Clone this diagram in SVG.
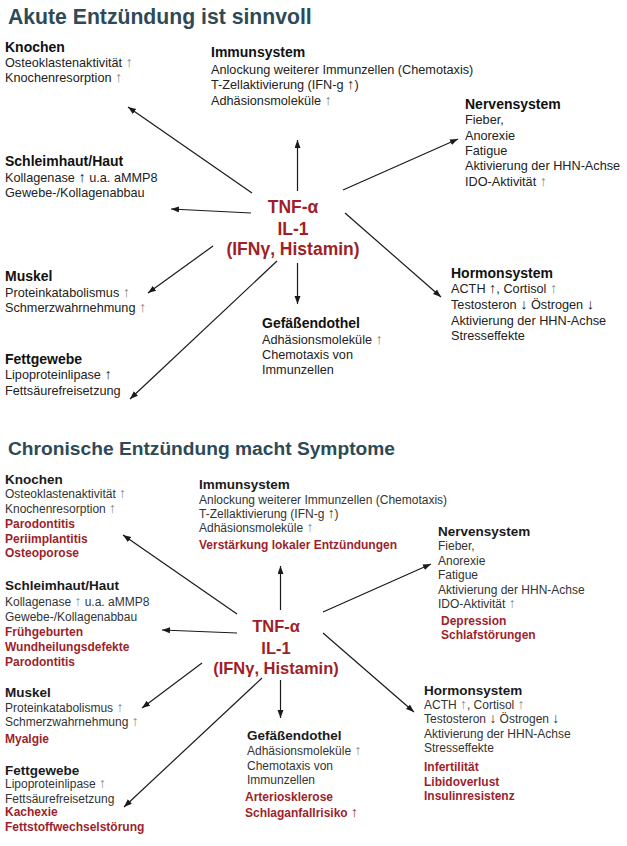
<svg xmlns="http://www.w3.org/2000/svg" width="627" height="846" viewBox="0 0 627 846">
<defs>
<marker id="ah" markerUnits="userSpaceOnUse" markerWidth="9" markerHeight="7" refX="8" refY="3" orient="auto">
<path d="M0,0 L8,3 L0,6 z" fill="#1a1a1a"/>
</marker>
<style>
text{font-family:"Liberation Sans",Arial,sans-serif;}
.t{font-size:21.2px;font-weight:bold;fill:#2d4a56;}
.t2{font-size:19.2px;font-weight:bold;fill:#2d4a56;}
.h{font-size:14px;font-weight:bold;fill:#111;}
.b{font-size:12.7px;fill:#222;}
.h2{font-size:13.5px;font-weight:bold;fill:#1a1a1a;}
.b2{font-size:12px;fill:#333;}
.r{font-size:12px;font-weight:bold;fill:#9e1f2c;}
.c{font-size:17.5px;font-weight:bold;fill:#a01f27;text-anchor:middle;}
.c2{font-size:16.5px;font-weight:bold;fill:#a01f27;text-anchor:middle;}
.u{fill:#888;font-size:1.15em;}
.d{font-size:1.15em;}
.conn line{stroke:#1a1a1a;stroke-width:1.2;marker-end:url(#ah);}
</style>
</defs>
<rect width="627" height="846" fill="#fff"/>

<text class="t" x="8" y="24">Akute Entzündung ist sinnvoll</text>

<g id="a-center">
<text class="c" x="293" y="213">TNF-α</text>
<text class="c" x="293" y="235">IL-1</text>
<text class="c" x="293" y="255">(IFNγ, Histamin)</text>
</g>
<g id="a-knochen">
<text class="h" x="5" y="52">Knochen</text>
<text class="b" x="5" y="67">Osteoklastenaktivität <tspan class="u">↑</tspan></text>
<text class="b" x="5" y="82">Knochenresorption <tspan class="u">↑</tspan></text>
</g>
<g id="a-immun">
<text class="h" x="211" y="57">Immunsystem</text>
<text class="b" x="211" y="74">Anlockung weiterer Immunzellen (Chemotaxis)</text>
<text class="b" x="211" y="89">T-Zellaktivierung (IFN-g <tspan class="d">↑</tspan>)</text>
<text class="b" x="211" y="105">Adhäsionsmoleküle <tspan class="u">↑</tspan></text>
</g>
<g id="a-nerven">
<text class="h" x="465" y="109">Nervensystem</text>
<text class="b" x="465" y="124">Fieber,</text>
<text class="b" x="465" y="140">Anorexie</text>
<text class="b" x="465" y="155">Fatigue</text>
<text class="b" x="465" y="170">Aktivierung der HHN-Achse</text>
<text class="b" x="465" y="186">IDO-Aktivität <tspan class="u">↑</tspan></text>
</g>
<g id="a-schleim">
<text class="h" x="5" y="166">Schleimhaut/Haut</text>
<text class="b" x="5" y="182">Kollagenase <tspan class="d">↑</tspan> u.a. aMMP8</text>
<text class="b" x="5" y="197">Gewebe-/Kollagenabbau</text>
</g>
<g id="a-muskel">
<text class="h" x="5" y="281">Muskel</text>
<text class="b" x="5" y="297">Proteinkatabolismus <tspan class="u">↑</tspan></text>
<text class="b" x="5" y="312">Schmerzwahrnehmung <tspan class="u">↑</tspan></text>
</g>
<g id="a-fett">
<text class="h" x="5" y="364">Fettgewebe</text>
<text class="b" x="5" y="379">Lipoproteinlipase <tspan class="d">↑</tspan></text>
<text class="b" x="5" y="395">Fettsäurefreisetzung</text>
</g>
<g id="a-gefaess">
<text class="h" x="262" y="328">Gefäßendothel</text>
<text class="b" x="262" y="344">Adhäsionsmoleküle <tspan class="u">↑</tspan></text>
<text class="b" x="262" y="359">Chemotaxis von</text>
<text class="b" x="262" y="374">Immunzellen</text>
</g>
<g id="a-hormon">
<text class="h" x="451" y="278">Hormonsystem</text>
<text class="b" x="451" y="293">ACTH <tspan class="d">↑</tspan>, Cortisol <tspan class="u">↑</tspan></text>
<text class="b" x="451" y="309">Testosteron <tspan class="d">↓</tspan> Östrogen <tspan class="d">↓</tspan></text>
<text class="b" x="451" y="325">Aktivierung der HHN-Achse</text>
<text class="b" x="451" y="340">Stresseffekte</text>
</g>

<g id="a-connectors" class="conn">
<line x1="252" y1="193" x2="128" y2="107"/>
<line x1="297.5" y1="191" x2="297.5" y2="140"/>
<line x1="251" y1="213" x2="171" y2="209"/>
<line x1="343" y1="190" x2="458" y2="139"/>
<line x1="213" y1="246" x2="148" y2="293"/>
<line x1="277" y1="261" x2="130" y2="399"/>
<line x1="297.5" y1="263" x2="297.5" y2="304"/>
<line x1="345" y1="213" x2="441" y2="297"/>
</g>

<text class="t2" x="8" y="455">Chronische Entzündung macht Symptome</text>

<g id="b-center">
<text class="c2" x="276" y="632">TNF-α</text>
<text class="c2" x="276" y="654">IL-1</text>
<text class="c2" x="276" y="674">(IFNγ, Histamin)</text>
</g>
<g id="b-knochen">
<text class="h2" x="5" y="484">Knochen</text>
<text class="b2" x="5" y="498">Osteoklastenaktivität <tspan class="u">↑</tspan></text>
<text class="b2" x="5" y="513">Knochenresorption <tspan class="u">↑</tspan></text>
<text class="r" x="5" y="528">Parodontitis</text>
<text class="r" x="5" y="543">Periimplantitis</text>
<text class="r" x="5" y="557">Osteoporose</text>
</g>
<g id="b-immun">
<text class="h2" x="199" y="489">Immunsystem</text>
<text class="b2" x="199" y="504">Anlockung weiterer Immunzellen (Chemotaxis)</text>
<text class="b2" x="199" y="518">T-Zellaktivierung (IFN-g <tspan class="d">↑</tspan>)</text>
<text class="b2" x="199" y="532">Adhäsionsmoleküle <tspan class="u">↑</tspan></text>
<text class="r" x="199" y="549">Verstärkung lokaler Entzündungen</text>
</g>
<g id="b-nerven">
<text class="h2" x="438" y="536">Nervensystem</text>
<text class="b2" x="438" y="550">Fieber,</text>
<text class="b2" x="438" y="565">Anorexie</text>
<text class="b2" x="438" y="579">Fatigue</text>
<text class="b2" x="438" y="594">Aktivierung der HHN-Achse</text>
<text class="b2" x="438" y="608">IDO-Aktivität <tspan class="u">↑</tspan></text>
<text class="r" x="441" y="625">Depression</text>
<text class="r" x="441" y="639">Schlafstörungen</text>
</g>
<g id="b-schleim">
<text class="h2" x="5" y="590">Schleimhaut/Haut</text>
<text class="b2" x="5" y="606">Kollagenase <tspan class="u">↑</tspan> u.a. aMMP8</text>
<text class="b2" x="5" y="621">Gewebe-/Kollagenabbau</text>
<text class="r" x="5" y="636">Frühgeburten</text>
<text class="r" x="5" y="651">Wundheilungsdefekte</text>
<text class="r" x="5" y="666">Parodontitis</text>
</g>
<g id="b-muskel">
<text class="h2" x="5" y="697">Muskel</text>
<text class="b2" x="5" y="712">Proteinkatabolismus <tspan class="u">↑</tspan></text>
<text class="b2" x="5" y="726">Schmerzwahrnehmung <tspan class="u">↑</tspan></text>
<text class="r" x="5" y="743">Myalgie</text>
</g>
<g id="b-fett">
<text class="h2" x="5" y="775">Fettgewebe</text>
<text class="b2" x="5" y="788">Lipoproteinlipase <tspan class="u">↑</tspan></text>
<text class="b2" x="5" y="803">Fettsäurefreisetzung</text>
<text class="r" x="5" y="816">Kachexie</text>
<text class="r" x="5" y="831">Fettstoffwechselstörung</text>
</g>
<g id="b-gefaess">
<text class="h2" x="247" y="740">Gefäßendothel</text>
<text class="b2" x="247" y="755">Adhäsionsmoleküle <tspan class="u">↑</tspan></text>
<text class="b2" x="247" y="770">Chemotaxis von</text>
<text class="b2" x="247" y="784">Immunzellen</text>
<text class="r" x="245" y="801">Arteriosklerose</text>
<text class="r" x="245" y="817">Schlaganfallrisiko <tspan class="d">↑</tspan></text>
</g>
<g id="b-hormon">
<text class="h2" x="424" y="695">Hormonsystem</text>
<text class="b2" x="424" y="709">ACTH <tspan class="u">↑</tspan>, Cortisol <tspan class="u">↑</tspan></text>
<text class="b2" x="424" y="723">Testosteron <tspan class="d">↓</tspan> Östrogen <tspan class="d">↓</tspan></text>
<text class="b2" x="424" y="738">Aktivierung der HHN-Achse</text>
<text class="b2" x="424" y="752">Stresseffekte</text>
<text class="r" x="424" y="771">Infertilität</text>
<text class="r" x="424" y="786">Libidoverlust</text>
<text class="r" x="424" y="800">Insulinresistenz</text>
</g>

<g id="b-connectors" class="conn">
<line x1="237" y1="614" x2="123" y2="535"/>
<line x1="280.5" y1="610" x2="280.5" y2="566"/>
<line x1="237" y1="633" x2="162" y2="630"/>
<line x1="323" y1="612" x2="431" y2="564"/>
<line x1="202" y1="663" x2="142" y2="708"/>
<line x1="262" y1="678" x2="124" y2="807"/>
<line x1="280.5" y1="680" x2="280.5" y2="718"/>
<line x1="323" y1="633" x2="414" y2="712"/>
</g>
</svg>
